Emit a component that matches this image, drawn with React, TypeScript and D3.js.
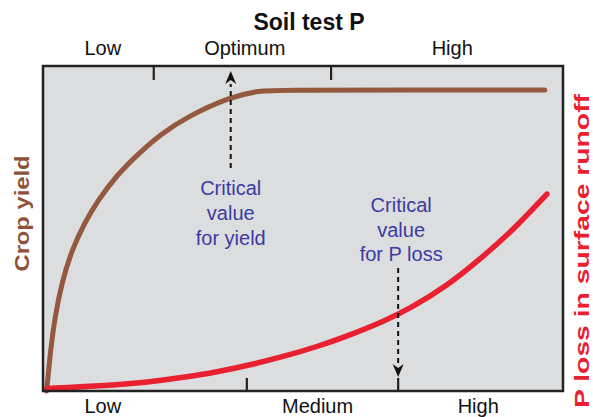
import React from "react";
import * as d3 from "d3";

const yieldX = [0.67, 0.87, 1.44, 2.31, 3.6, 5.52, 8.08, 10.63, 14.23, 18.65, 22.5, 27.6, 36.0, 41.7, 45.6, 70, 96.5];
const yieldY = [0, 2.46, 12.6, 22.9, 33.2, 43.4, 52.0, 58.8, 66.5, 73.5, 78.8, 84.3, 90.5, 92.45, 92.6, 92.6, 92.6];
const lossX = [0.77, 10.96, 20.6, 26.9, 33.5, 39.8, 46.15, 52.7, 59.0, 65.4, 70.6, 77.7, 84.0, 90.4, 96.9];
const lossY = [0.77, 1.54, 2.77, 4.15, 5.85, 8.0, 10.55, 13.6, 17.2, 21.3, 25.4, 32.3, 40.5, 49.5, 60.6];

const title = "Soil test P";
const topLabels = ["Low", "Optimum", "High"];
const topLabelX = [11.5, 38.8, 78.7];
const topTicks = [21.3, 55.4];
const bottomLabels = ["Low", "Medium", "High"];
const bottomLabelX = [11.5, 52.8, 83.7];
const bottomTicks = [39.2, 68.3];
const critYieldX = 36.1;
const critLossX = 68.3;
const critYieldText = ["Critical", "value", "for yield"];
const critLossText = ["Critical", "value", "for P loss"];
const leftTitle = "Crop yield";
const rightTitle = "P loss in surface runoff";

export default function App() {
  const W = 593, H = 417;
  const x = d3.scaleLinear().domain([0, 100]).range([43, 563]);
  const y = d3.scaleLinear().domain([0, 100]).range([391, 66]);
  const line = d3.line<[number, number]>().x(d => x(d[0])).y(d => y(d[1])).curve(d3.curveBasis);
  const yieldPts = yieldX.map((v, i) => [v, yieldY[i]] as [number, number]);
  const lossPts = lossX.map((v, i) => [v, lossY[i]] as [number, number]);
  const blue = "#3b3ba3";
  const font = "Liberation Sans, Arial, Helvetica, sans-serif";
  const arrowHead = (cx: number, tipY: number, dir: number) => {
    const h = 13 * dir;
    return `M${cx},${tipY} L${cx - 5.5},${tipY - h} L${cx},${tipY - h * 0.7} L${cx + 5.5},${tipY - h} Z`;
  };
  const cyx = x(critYieldX);
  const clx = x(critLossX);
  return (
    <svg width={W} height={H} style={{ position: "absolute", left: 0, top: 0, background: "#fff" }}>
      <rect x={x(0)} y={y(100)} width={x(100) - x(0)} height={y(0) - y(100)} fill="#dcdddf" />
      <path d={line(yieldPts) || ""} fill="none" stroke="#93583e" strokeWidth={5} strokeLinecap="round" />
      <path d={line(lossPts) || ""} fill="none" stroke="#e8202f" strokeWidth={5.5} strokeLinecap="round" />
      {topTicks.map((t, i) => (
        <line key={"tt" + i} x1={x(t)} x2={x(t)} y1={y(100)} y2={y(100) + 14} stroke="#222" strokeWidth={2.2} />
      ))}
      {bottomTicks.map((t, i) => (
        <line key={"bt" + i} x1={x(t)} x2={x(t)} y1={y(0)} y2={y(0) - 13} stroke="#222" strokeWidth={2.2} />
      ))}
      <rect x={x(0)} y={y(100)} width={x(100) - x(0)} height={y(0) - y(100)} fill="none" stroke="#222" strokeWidth={2.5} />
      <line x1={cyx} x2={cyx} y1={168} y2={84} stroke="#111" strokeWidth={2} strokeDasharray="5,4" />
      <path d={arrowHead(cyx, 71, -1)} fill="#111" />
      <line x1={clx} x2={clx} y1={268} y2={366} stroke="#111" strokeWidth={2} strokeDasharray="5,4" />
      <path d={arrowHead(clx, 377, 1)} fill="#111" />
      {critYieldText.map((s, i) => (
        <text key={"cy" + i} x={cyx} y={195 + i * 25} textAnchor="middle" fontFamily={font} fontSize={20} fill={blue}>{s}</text>
      ))}
      {critLossText.map((s, i) => (
        <text key={"cl" + i} x={clx + 3} y={212 + i * 24.5} textAnchor="middle" fontFamily={font} fontSize={20} fill={blue}>{s}</text>
      ))}
      <text x={309} y={30} textAnchor="middle" fontFamily={font} fontSize={23} fontWeight="bold" fill="#111">{title}</text>
      {topLabels.map((s, i) => (
        <text key={"tl" + i} x={x(topLabelX[i])} y={55} textAnchor="middle" fontFamily={font} fontSize={20} fill="#111">{s}</text>
      ))}
      {bottomLabels.map((s, i) => (
        <text key={"bl" + i} x={x(bottomLabelX[i])} y={413} textAnchor="middle" fontFamily={font} fontSize={20} fill="#111">{s}</text>
      ))}
      <text transform={`translate(29,213.5) rotate(-90)`} textAnchor="middle" fontFamily={font} fontSize={21} fontWeight="bold" fill="#8e5337" textLength={116} lengthAdjust="spacingAndGlyphs">{leftTitle}</text>
      <text transform={`translate(589,251) rotate(-90)`} textAnchor="middle" fontFamily={font} fontSize={21} fontWeight="bold" fill="#e8202f" textLength={314} lengthAdjust="spacingAndGlyphs">{rightTitle}</text>
    </svg>
  );
}
